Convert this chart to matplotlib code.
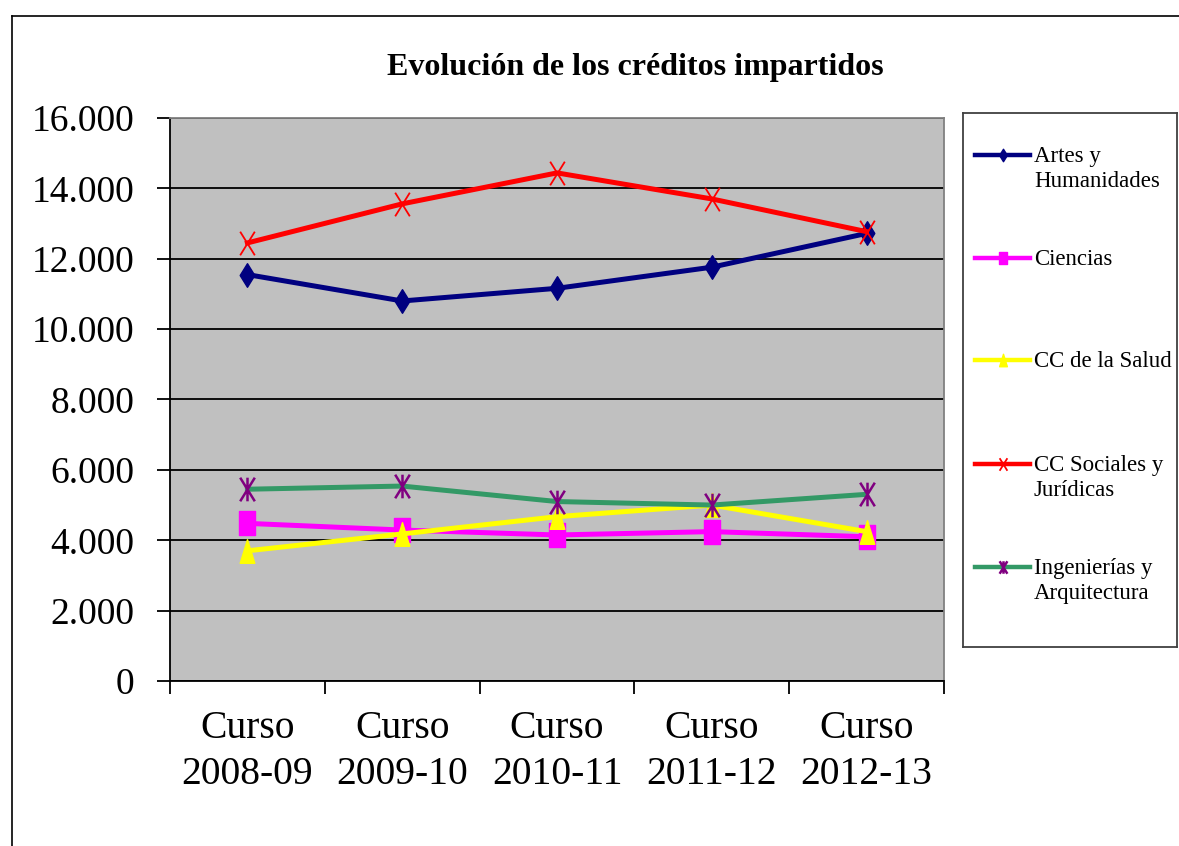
import matplotlib
matplotlib.use("Agg")
import matplotlib.pyplot as plt
from matplotlib.path import Path
from matplotlib.ticker import FixedLocator, FuncFormatter
from matplotlib.lines import Line2D

# ---------------- data ----------------
categories = ["Curso\n2008-09", "Curso\n2009-10", "Curso\n2010-11", "Curso\n2011-12", "Curso\n2012-13"]
artes = [11550, 10800, 11160, 11760, 12720]
ciencias = [4480, 4290, 4150, 4245, 4100]
salud = [3700, 4180, 4670, 5000, 4245]
sociales = [12450, 13560, 14440, 13700, 12770]
ingenierias = [5450, 5540, 5100, 5000, 5305]
series_names = ["Artes y\nHumanidades", "Ciencias", "CC de la Salud",
                "CC Sociales y\nJurídicas", "Ingenierías y\nArquitectura"]
title = "Evolución de los créditos impartidos"
y_ticks = [0, 2000, 4000, 6000, 8000, 10000, 12000, 14000, 16000]

# ---------------- styles ----------------
plt.rcParams['font.family'] = ['Liberation Serif', 'DejaVu Serif']
W, H = 1179, 846
fig = plt.figure(figsize=(W / 100, H / 100), dpi=100)

A = 0.62  # horizontal squash of markers
diamond = Path([(0, 0.5), (0.5 * A, 0), (0, -0.5), (-0.5 * A, 0), (0, 0.5)],
               [Path.MOVETO, Path.LINETO, Path.LINETO, Path.LINETO, Path.CLOSEPOLY])
square = Path([(-0.5 * A * 1.1, -0.5), (0.5 * A * 1.1, -0.5), (0.5 * A * 1.1, 0.5), (-0.5 * A * 1.1, 0.5), (0, 0)],
              [Path.MOVETO, Path.LINETO, Path.LINETO, Path.LINETO, Path.CLOSEPOLY])
triangle = Path([(0, 0.5), (0.5 * A, -0.5), (-0.5 * A, -0.5), (0, 0.5)],
                [Path.MOVETO, Path.LINETO, Path.LINETO, Path.CLOSEPOLY])
xmark = Path([(-0.5 * A, -0.5), (0.5 * A, 0.5), (-0.5 * A, 0.5), (0.5 * A, -0.5)],
             [Path.MOVETO, Path.LINETO, Path.MOVETO, Path.LINETO])
star = Path([(-0.5 * A, -0.5), (0.5 * A, 0.5), (-0.5 * A, 0.5), (0.5 * A, -0.5), (0, 0.5), (0, -0.5)],
            [Path.MOVETO, Path.LINETO, Path.MOVETO, Path.LINETO, Path.MOVETO, Path.LINETO])

styles = [
    dict(color="#000080", marker=diamond, mfc="#000080", mec="#000080", mew=1),
    dict(color="#FF00FF", marker=square, mfc="#FF00FF", mec="#FF00FF", mew=1),
    dict(color="#FFFF00", marker=triangle, mfc="#FFFF00", mec="#FFFF00", mew=1),
    dict(color="#FF0000", marker=xmark, mfc="none", mec="#FF0000", mew=1.3),
    dict(color="#339966", marker=star, mfc="none", mec="#800080", mew=1.8),
]
all_series = [artes, ciencias, salud, sociales, ingenierias]

# ---------------- outer frame ----------------
fig.add_artist(Line2D([12 / W, 1.0], [1 - 16 / H, 1 - 16 / H], transform=fig.transFigure, color="black", lw=1.2))
fig.add_artist(Line2D([12 / W, 12 / W], [0, 1 - 16 / H], transform=fig.transFigure, color="black", lw=1.2))

# ---------------- main axes ----------------
ax = fig.add_axes([170 / W, (H - 681) / H, 774 / W, 563 / H])
ax.set_facecolor("#C0C0C0")
x = list(range(len(categories)))
for i, (vals, st) in enumerate(zip(all_series, styles)):
    ax.plot(x, vals, lw=3.6, ms=17, solid_joinstyle="round", zorder=3 + i, **st)

ax.set_xlim(-0.5, len(categories) - 0.5)
ax.set_ylim(0, 16000)
ax.yaxis.set_major_locator(FixedLocator(y_ticks))
ax.yaxis.set_major_formatter(FuncFormatter(lambda v, p: f"{v:,.0f}".replace(",", ".")))
ax.grid(axis="y", color="black", lw=1.3, zorder=1)
ax.set_axisbelow(True)

ax.xaxis.set_major_locator(FixedLocator([i - 0.5 for i in range(len(categories) + 1)]))
ax.xaxis.set_major_formatter(FuncFormatter(lambda v, p: ""))
ax.xaxis.set_minor_locator(FixedLocator(x))
ax.set_xticklabels(categories, minor=True, linespacing=1.3)
ax.tick_params(axis="x", which="major", length=9, width=1.3, color="black")
ax.tick_params(axis="x", which="minor", length=0, pad=21, labelsize=28.5)
ax.tick_params(axis="y", length=9.5, width=1.3, pad=16, labelsize=27)

for s in ["left", "bottom"]:
    ax.spines[s].set_color("black")
    ax.spines[s].set_linewidth(1.3)
for s in ["top", "right"]:
    ax.spines[s].set_color("#808080")
    ax.spines[s].set_linewidth(1.3)

fig.text(635 / W, 1 - 68 / H, title, ha="center", va="center", fontsize=23, fontweight="bold")

# ---------------- legend ----------------
lx0, ly0, lw_, lh_ = 963, 113, 214, 534
lax = fig.add_axes([lx0 / W, (H - ly0 - lh_) / H, lw_ / W, lh_ / H])
lax.set_xlim(0, lw_)
lax.set_ylim(lh_, 0)
lax.set_xticks([])
lax.set_yticks([])
lax.set_facecolor("white")
for s in lax.spines.values():
    s.set_color("#404040")
    s.set_linewidth(1.3)

handle_y = [42, 145, 247, 351, 454]
for hy, name, st in zip(handle_y, series_names, styles):
    lax.plot([12, 67], [hy, hy], lw=3.2, ms=9, markevery=[], **st)
    lax.plot([39.5], [hy], lw=0, ms=9, **{k: v for k, v in st.items() if k != "color"})
    for j, line in enumerate(name.split("\n")):
        lax.text(71, hy + 7 + 25 * j, line, ha="left", va="baseline", fontsize=16.5)

fig.savefig("out.png", dpi=100)
